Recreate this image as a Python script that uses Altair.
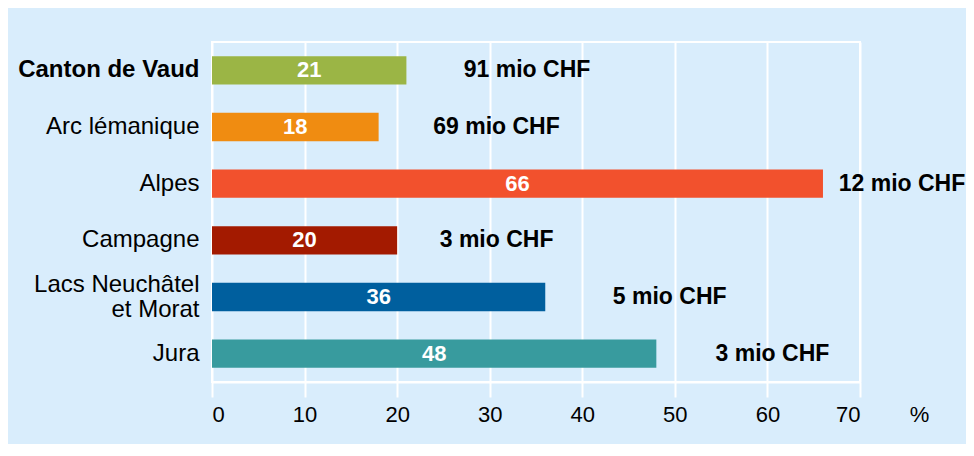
import altair as alt
import pandas as pd

categories = ["Canton de Vaud", "Arc lémanique", "Alpes", "Campagne",
              "Lacs Neuchâtel et Morat", "Jura"]
values = [21, 18, 66, 20, 36, 48]
amounts = ["91 mio CHF", "69 mio CHF", "12 mio CHF", "3 mio CHF", "5 mio CHF", "3 mio CHF"]
amount_pos = [27.2, 23.9, 67.7, 24.6, 43.3, 54.4]  # where each amount label starts (in %)
colors = ["#9bb545", "#f08c11", "#f2512d", "#a31a00", "#005f9e", "#389b9e"]

df = pd.DataFrame({"cat": categories, "val": values, "amt": amounts, "pos": amount_pos})

FONT = "Liberation Sans"

y_enc = alt.Y("cat:N", sort=None, title=None,
              scale=alt.Scale(paddingInner=0.5, paddingOuter=0.25),
              axis=alt.Axis(domain=False, ticks=False, grid=False, labelPadding=13,
                            labelFontSize=24, labelFont=FONT, labelColor="#000000",
                            labelLimit=300, labelLineHeight=25,
                            labelOffset=alt.condition("datum.value == 'Lacs Neuchâtel et Morat'",
                                                      alt.value(-12), alt.value(0)),
                            labelFontWeight=alt.condition("datum.value == 'Canton de Vaud'",
                                                          alt.value("bold"), alt.value("normal")),
                            labelExpr="datum.label == 'Lacs Neuchâtel et Morat' ? ['Lacs Neuchâtel', 'et Morat'] : datum.label"))

x_scale = alt.Scale(domain=[0, 70], nice=False)

bars = alt.Chart(df).mark_bar().encode(
    x=alt.X("val:Q", scale=x_scale, title="%",
            axis=alt.Axis(values=[0, 10, 20, 30, 40, 50, 60, 70], grid=True, gridColor="white",
                          gridWidth=2, gridOpacity=1, domainColor="white", domainWidth=2,
                          tickColor="white", tickWidth=2, tickSize=15, labelPadding=7,
                          labelFontSize=22, labelFont=FONT, labelColor="#000000",
                          titleFontSize=22, titleFont=FONT, titleFontWeight="normal",
                          titleColor="#000000", titleX=707, titleY=22, titleAlign="center",
                          titleBaseline="top", titleAnchor="start")),
    y=y_enc,
    color=alt.Color("cat:N", scale=alt.Scale(domain=categories, range=colors), legend=None),
)

vals = alt.Chart(df).transform_calculate(mid="datum.val / 2").mark_text(
    font=FONT, fontSize=22, fontWeight="bold", color="white", baseline="middle", align="center"
).encode(x=alt.X("mid:Q", scale=x_scale), y=alt.Y("cat:N", sort=None), text="val:Q")

amts = alt.Chart(df).mark_text(
    font=FONT, fontSize=23, fontWeight="bold", color="#000000", baseline="middle", align="left"
).encode(x=alt.X("pos:Q", scale=x_scale), y=alt.Y("cat:N", sort=None), text="amt:N")

chart = alt.layer(bars, vals, amts).properties(
    width=648, height=340,
    autosize=alt.AutoSizeParams(type="none"),
    padding={"left": 204, "top": 34, "right": 106, "bottom": 62},
).configure(background="#d9edfc").configure_view(stroke="white", strokeWidth=2)

chart.save("out.html", embed_options={"renderer": "svg", "actions": False})
